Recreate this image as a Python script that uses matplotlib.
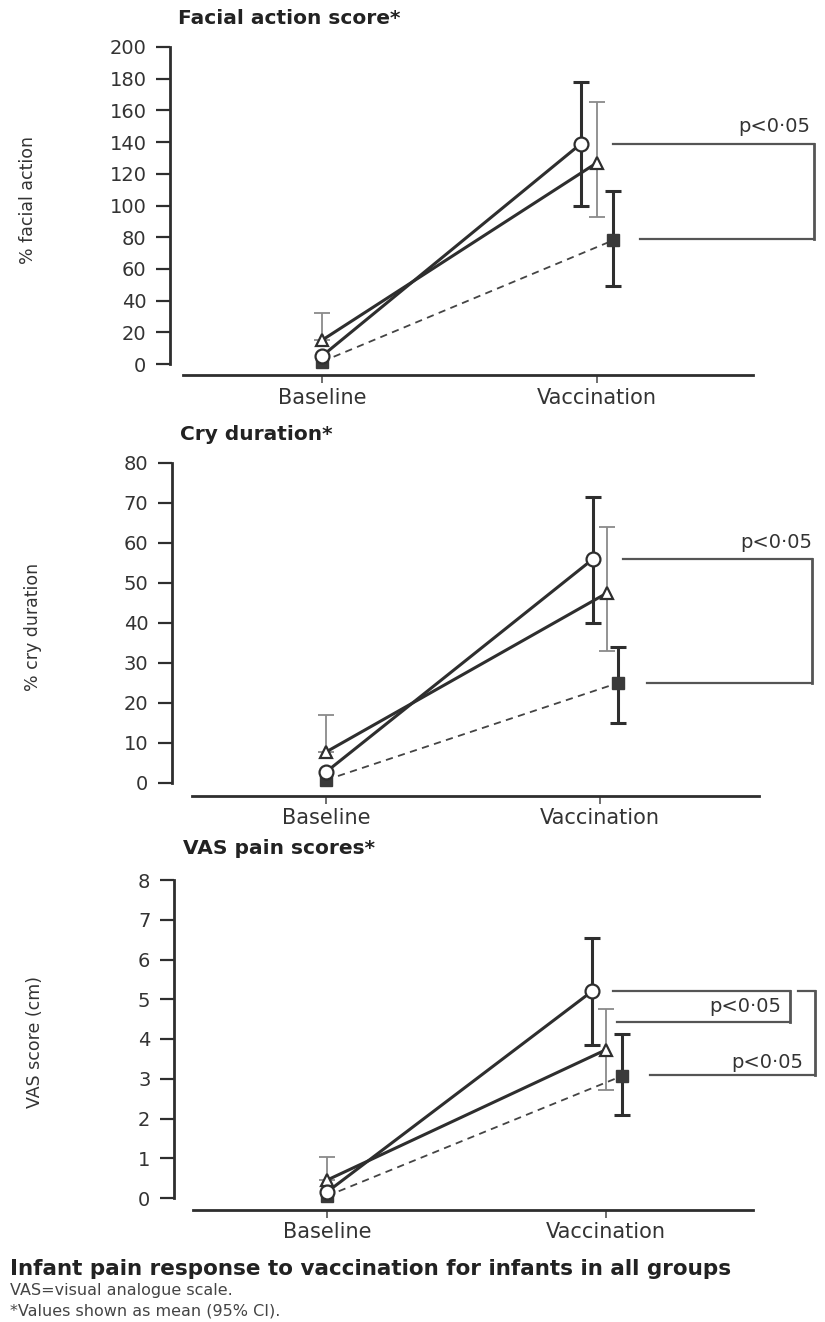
import matplotlib
matplotlib.use("Agg")
import matplotlib.pyplot as plt
import numpy as np

W, H = 825, 1322

# ---- data ----
groups = ["Baseline", "Vaccination"]

# facial action score (%)
facial_circle = [5, 139]
facial_circle_ci = [None, (100, 178)]
facial_triangle = [15, 127]
facial_triangle_ci = [(15, 32), (93, 165)]
facial_square = [1.5, 78]
facial_square_ci = [None, (49, 109)]
facial_ticks = [0, 20, 40, 60, 80, 100, 120, 140, 160, 180, 200]

# cry duration (%)
cry_circle = [2.75, 56]
cry_circle_ci = [None, (40, 71.5)]
cry_triangle = [7.75, 47.5]
cry_triangle_ci = [(7.75, 17), (33, 64)]
cry_square = [0.75, 25]
cry_square_ci = [None, (15, 34)]
cry_ticks = [0, 10, 20, 30, 40, 50, 60, 70, 80]

# VAS pain score (cm)
vas_circle = [0.15, 5.2]
vas_circle_ci = [None, (3.85, 6.55)]
vas_triangle = [0.45, 3.73]
vas_triangle_ci = [(0.45, 1.03), (2.72, 4.76)]
vas_square = [0.05, 3.07]
vas_square_ci = [None, (2.09, 4.13)]
vas_ticks = [0, 1, 2, 3, 4, 5, 6, 7, 8]

# significance brackets: (upper level, lower level, label)
facial_sig = [(139, 79, "p<0·05")]
cry_sig = [(56, 25, "p<0·05")]
vas_sig = [(5.2, 4.43, "p<0·05"), (5.2, 3.1, "p<0·05")]

titles = ["Facial action score*", "Cry duration*", "VAS pain scores*"]
ylabels = ["% facial action", "% cry duration", "VAS score (cm)"]

caption_title = "Infant pain response to vaccination for infants in all groups"
caption_lines = ["VAS=visual analogue scale.", "*Values shown as mean (95% CI)."]

# ---- layout in pixels ----
layout = [
    dict(left=170, right=822, top=47, zero=364, bottom=375, base=322, vacc=597,
         line=(183, 753), title=(178, 18), ylab=(28, 200), off=(-16, 0, 16),
         brackets=[dict(x_top=613, x_bot=640, x_right=814, text=(810, 126), ha="right")]),
    dict(left=172, right=822, top=463, zero=783, bottom=796, base=326, vacc=600,
         line=(192, 759), title=(180, 435), ylab=(33, 627), off=(-7, 7, 18),
         brackets=[dict(x_top=623, x_bot=647, x_right=812, text=(812, 542), ha="right")]),
    dict(left=174, right=822, top=880, zero=1198, bottom=1210, base=327, vacc=606,
         line=(193, 753), title=(183, 848), ylab=(35, 1042), off=(-14, 0, 16),
         brackets=[dict(x_top=613, x_bot=617, x_right=790, text=(781, 1006), ha="right"),
                   dict(x_top=798, x_bot=650, x_right=815, text=(803, 1062), ha="right")]),
]

panels = [
    (facial_circle, facial_circle_ci, facial_triangle, facial_triangle_ci,
     facial_square, facial_square_ci, facial_ticks, facial_sig),
    (cry_circle, cry_circle_ci, cry_triangle, cry_triangle_ci,
     cry_square, cry_square_ci, cry_ticks, cry_sig),
    (vas_circle, vas_circle_ci, vas_triangle, vas_triangle_ci,
     vas_square, vas_square_ci, vas_ticks, vas_sig),
]

DARK = "#2e2e2e"
MID = "#555555"

fig = plt.figure(figsize=(W / 100, H / 100), dpi=100)


def fx(px):
    return px / W


def fy(py):
    return 1 - py / H


def draw_ci(ax, x, mean, ci, color, lw):
    if ci is None:
        return
    lo, hi = ci
    ax.errorbar([x], [mean], yerr=[[mean - lo], [hi - mean]], fmt="none",
                ecolor=color, elinewidth=lw, capsize=6, capthick=lw, zorder=2,
                clip_on=False)


for i, (lay, pdata) in enumerate(zip(layout, panels)):
    c, c_ci, t, t_ci, s, s_ci, ticks, sig = pdata
    ymax = ticks[-1]
    ax = fig.add_axes([fx(lay["left"]), fy(lay["bottom"]),
                       (lay["right"] - lay["left"]) / W,
                       (lay["bottom"] - lay["top"]) / H])
    scale = lay["vacc"] - lay["base"]

    def xd(px):
        return 1 + (px - lay["base"]) / scale

    per = (lay["zero"] - lay["top"]) / ymax
    ax.set_xlim(xd(lay["left"]), xd(lay["right"]))
    ax.set_ylim(-(lay["bottom"] - lay["zero"]) / per, ymax)

    xs = np.arange(1, len(groups) + 1, dtype=float)
    oc, ot, osq = [o / scale for o in lay["off"]]
    xc = xs + np.array([0, oc])
    xt = xs + np.array([0, ot])
    xsq = xs + np.array([0, osq])

    # error bars
    for k in range(len(groups)):
        draw_ci(ax, xc[k], c[k], c_ci[k], DARK, 2.2)
        draw_ci(ax, xt[k], t[k], t_ci[k], "#8a8a8a", 1.3)
        draw_ci(ax, xsq[k], s[k], s_ci[k], DARK, 2.2)

    ax.plot(xsq, s, color="#444444", lw=1.3, ls=(0, (4, 3)), marker="s",
            ms=9, mfc="#3a3a3a", mec="#3a3a3a", zorder=3, clip_on=False)
    ax.plot(xt, t, color=DARK, lw=2.2, marker="^", ms=9, mfc="white",
            mec=DARK, mew=1.6, zorder=4, clip_on=False)
    ax.plot(xc, c, color=DARK, lw=2.2, marker="o", ms=10, mfc="white",
            mec=DARK, mew=1.6, zorder=5, clip_on=False)

    # significance brackets
    for br, (ytop, ybot, label) in zip(lay["brackets"], sig):
        ax.plot([xd(br["x_top"]), xd(br["x_right"])], [ytop, ytop],
                color=MID, lw=1.6, clip_on=False)
        ax.plot([xd(br["x_right"])] * 2, [ytop, ybot], color=MID, lw=2.0,
                clip_on=False)
        ax.plot([xd(br["x_bot"]), xd(br["x_right"])], [ybot, ybot],
                color=MID, lw=1.6, clip_on=False)
        fig.text(fx(br["text"][0]), fy(br["text"][1]), label, ha=br["ha"],
                 va="center", fontsize=14, color="#333333")

    # axes styling
    for side in ["top", "right"]:
        ax.spines[side].set_visible(False)
    ax.spines["left"].set_bounds(0, ymax)
    ax.spines["left"].set_linewidth(2.0)
    ax.spines["left"].set_color(DARK)
    ax.spines["bottom"].set_bounds(xd(lay["line"][0]), xd(lay["line"][1]))
    ax.spines["bottom"].set_linewidth(2.0)
    ax.spines["bottom"].set_color(DARK)

    ax.set_yticks(ticks)
    ax.set_yticklabels([str(v) for v in ticks])
    ax.tick_params(axis="y", direction="out", length=10, width=1.6,
                   color=DARK, pad=7, labelsize=14, labelcolor="#333333")
    ax.set_xticks(xs)
    ax.set_xticklabels(groups)
    ax.tick_params(axis="x", direction="out", length=6, width=1.2,
                   color=MID, pad=3, labelsize=15, labelcolor="#333333")
    ax.patch.set_alpha(0)

    fig.text(fx(lay["title"][0]), fy(lay["title"][1]), titles[i],
             ha="left", va="center", fontsize=14.5, fontweight="bold",
             color="#222222")
    fig.text(fx(lay["ylab"][0]), fy(lay["ylab"][1]), ylabels[i],
             rotation=90, ha="center", va="center", fontsize=12.5,
             color="#333333")

fig.text(fx(10), fy(1269), caption_title, ha="left", va="center",
         fontsize=15.5, fontweight="bold", color="#222222")
for j, line in enumerate(caption_lines):
    fig.text(fx(10), fy(1291 + 20 * j), line, ha="left", va="center",
             fontsize=11.5, color="#444444")

fig.savefig("out.png", dpi=100)
